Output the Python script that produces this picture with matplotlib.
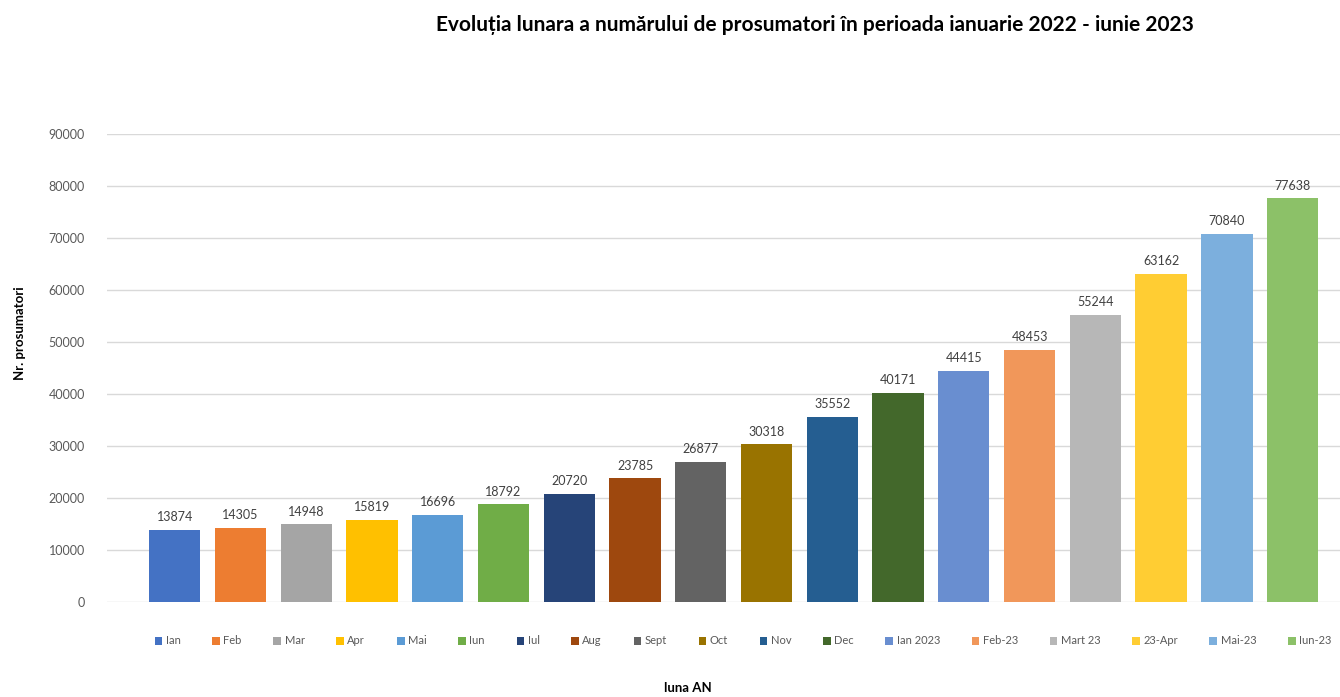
import numpy as np
import matplotlib
matplotlib.use("Agg")
from matplotlib import pyplot as plt

# dati
luni = ["Ian", "Feb", "Mar", "Apr", "Mai", "Iun", "Iul", "Aug", "Sept", "Oct",
        "Nov", "Dec", "Ian 2023", "Feb-23", "Mart 23", "23-Apr", "Mai-23", "Iun-23"]
prosumatori = [13874, 14305, 14948, 15819, 16696, 18792, 20720, 23785, 26877,
               30318, 35552, 40171, 44415, 48453, 55244, 63162, 70840, 77638]
culori = ["#4472C4", "#ED7D31", "#A5A5A5", "#FFC000", "#5B9BD5", "#70AD47",
          "#264478", "#9E480E", "#636363", "#997300", "#255E91", "#43682B",
          "#698ED0", "#F1975A", "#B7B7B7", "#FFCD33", "#7CAFDD", "#8CC168"]

plt.rcParams['font.family'] = ['Lato', 'DejaVu Sans']
grigio = "#595959"

fig = plt.figure(figsize=(13.4, 6.97), dpi=100)
ax = fig.add_axes([107/1340, 1 - 602/697, (1340 - 107)/1340, (602 - 134)/697])

x = np.arange(len(luni))
bare = ax.bar(x, prosumatori, width=0.78, color=culori, label=luni, zorder=3)
for xi, v in zip(x, prosumatori):
    ax.text(xi, v + 1300, str(v), ha='center', va='bottom', fontsize=9, color="#404040")

ax.set_ylim(0, 90000)
ax.set_xlim(-1.03, 17.72)
ax.set_yticks(np.arange(0, 90001, 10000))
ax.set_xticks([])
ax.grid(axis='y', color='#D9D9D9', lw=1, zorder=0)
for s in ax.spines.values():
    s.set_visible(False)
ax.tick_params(axis='y', length=0, labelsize=9, labelcolor=grigio, pad=16)

fig.text(815/1340, 1 - 25/697, "Evoluția lunara a numărului de prosumatori în perioada ianuarie 2022 - iunie 2023",
         ha='center', va='center', fontsize=15, fontweight='bold', color='black')
fig.text(20/1340, 1 - 333/697, "Nr. prosumatori", rotation=90, ha='center', va='center',
         fontsize=9.5, fontweight='bold')
fig.text(688/1340, 1 - 688/697, "luna AN", ha='center', va='center', fontsize=9.5, fontweight='bold')

leg = fig.legend(handles=bare.patches, labels=luni, ncol=18, frameon=False,
                 loc='center', bbox_to_anchor=(743/1340, 1 - 641/697),
                 fontsize=8, handlelength=0.7, handleheight=0.7, handletextpad=0.3,
                 columnspacing=2.85, labelcolor=grigio)

fig.savefig("out.png", dpi=100)
